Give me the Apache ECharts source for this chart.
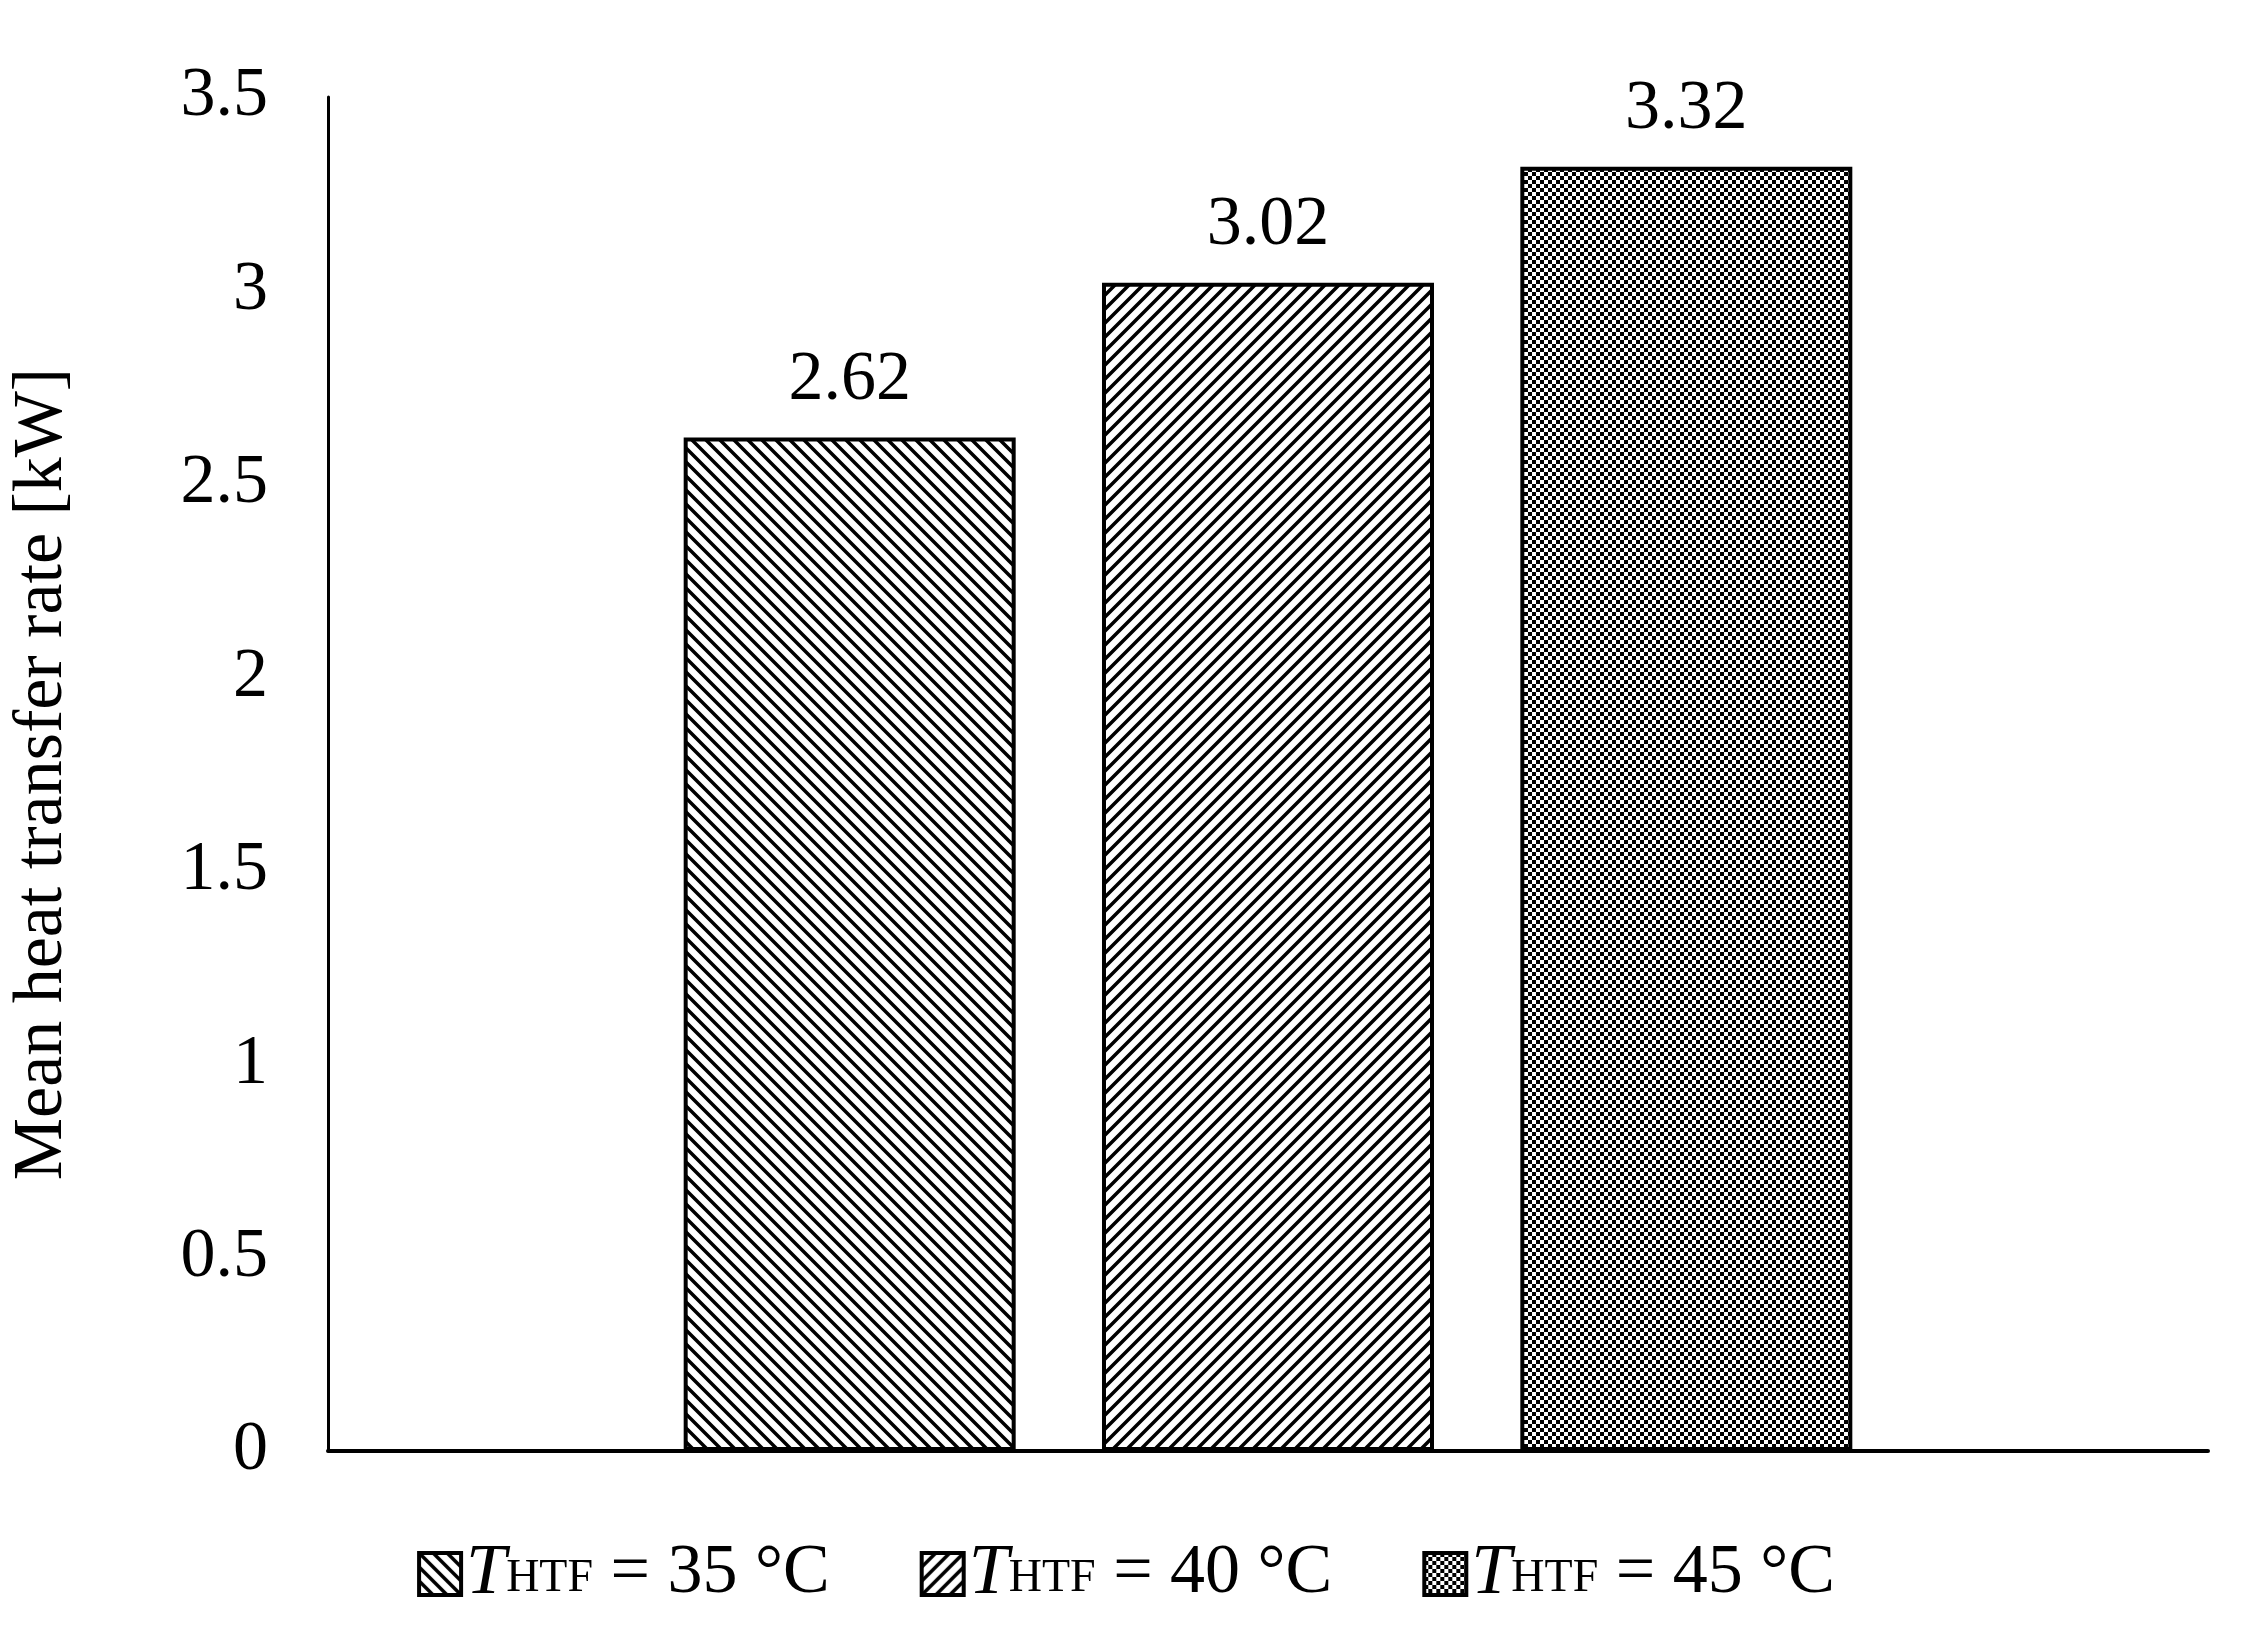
<!DOCTYPE html>
<html><head><meta charset="utf-8">
<script src="https://cdn.jsdelivr.net/npm/echarts@6/dist/echarts.min.js"></script>
<style>html,body{margin:0;background:#fff}#main{width:2252px;height:1643px}</style>
</head><body><div id="main"></div>
<script>
var categories = [''];
var seriesNames = ['35', '40', '45'];
var values = [2.62, 3.02, 3.32];
var yTicks = { min: 0, max: 3.5, interval: 0.5 };

function makePattern(kind) {
  var c = document.createElement('canvas');
  var s = kind === 'check' ? 8 : 14;
  c.width = s; c.height = s;
  var g = c.getContext('2d');
  g.fillStyle = '#fff'; g.fillRect(0, 0, s, s);
  g.strokeStyle = '#000'; g.fillStyle = '#000'; g.lineWidth = 3.5;
  if (kind === 'back') {
    g.beginPath(); g.moveTo(-2, -2); g.lineTo(s + 2, s + 2);
    g.moveTo(-2, s - 2); g.lineTo(2, s + 2);
    g.moveTo(s - 2, -2); g.lineTo(s + 2, 2); g.stroke();
  } else if (kind === 'fwd') {
    g.beginPath(); g.moveTo(-2, s + 2); g.lineTo(s + 2, -2);
    g.moveTo(-2, 2); g.lineTo(2, -2);
    g.moveTo(s - 2, s + 2); g.lineTo(s + 2, s - 2); g.stroke();
  } else {
    g.fillRect(0, 0, 4, 4); g.fillRect(4, 4, 4, 4);
  }
  return { image: c, repeat: 'repeat' };
}
var patterns = [makePattern('back'), makePattern('fwd'), makePattern('check')];

var chart = echarts.init(document.getElementById('main'));
var font = '"Liberation Serif", "DejaVu Serif", serif';
chart.setOption({
  animation: false,
  textStyle: { fontFamily: font, color: '#000' },
  grid: { left: 323, right: 44, top: 97, bottom: 192 },
  legend: {
    bottom: 28, left: 'center', itemGap: 90, itemWidth: 42, itemHeight: 42,
    icon: 'rect',
    data: seriesNames,
    itemStyle: { borderColor: '#000', borderWidth: 4 },
    formatter: function (n) { return '{i|T}{s|HTF} = ' + n + ' °C'; },
    textStyle: {
      fontSize: 70, fontFamily: font, color: '#000',
      rich: {
        i: { fontStyle: 'italic', fontSize: 72, fontFamily: font },
        s: { fontSize: 46, fontFamily: font, padding: [10, 0, 0, 0] }
      }
    }
  },
  xAxis: {
    type: 'category', data: categories,
    axisLine: { lineStyle: { color: '#000', width: 4 } },
    axisTick: { show: false }, axisLabel: { show: false }
  },
  yAxis: {
    type: 'value', min: yTicks.min, max: yTicks.max, interval: yTicks.interval,
    name: 'Mean heat transfer rate [kW]', nameLocation: 'middle', nameGap: 250,
    nameTextStyle: { fontSize: 70, fontFamily: font, color: '#000' },
    axisLine: { show: true, lineStyle: { color: '#000', width: 3 } },
    axisTick: { show: false }, splitLine: { show: false },
    axisLabel: { fontSize: 70, fontFamily: font, color: '#000', margin: 60 }
  },
  series: seriesNames.map(function (n, i) {
    return {
      name: n, type: 'bar', barWidth: 332, barGap: '26%',
      data: [values[i]],
      itemStyle: { color: patterns[i], borderColor: '#000', borderWidth: 4 },
      label: { show: true, position: 'top', distance: 22, fontSize: 70,
        fontFamily: font, color: '#000', formatter: function (p) { return p.value.toFixed(2); } }
    };
  })
});
</script></body></html>
